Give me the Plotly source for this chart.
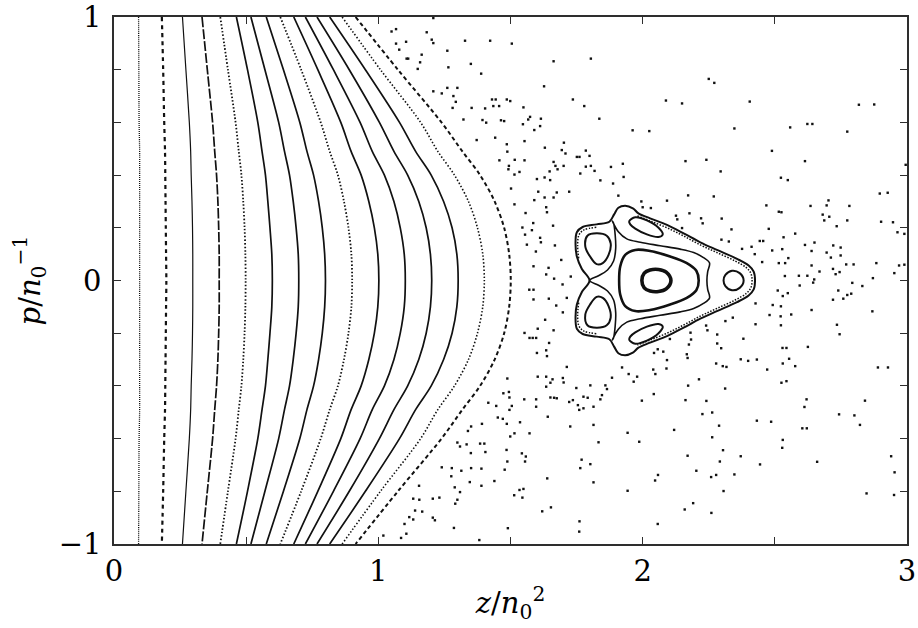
import plotly.graph_objects as go

# ---------------------------------------------------------------------------
# Regular (integrable-looking) invariant curves on the low-z side.
# Each curve is sampled at the momenta in P_LEVELS (upper half, p >= 0);
# the section is symmetric under p -> -p.
# ---------------------------------------------------------------------------
P_LEVELS = [1.0, 0.8, 0.6, 0.49, 0.4, 0.3, 0.2, 0.1, 0.0]

Z_CURVES = [
    [0.093, 0.094, 0.095, 0.097, 0.097, 0.097, 0.097, 0.097, 0.097],
    [0.181, 0.186, 0.190, 0.193, 0.194, 0.195, 0.196, 0.197, 0.198],
    [0.259, 0.272, 0.285, 0.290, 0.292, 0.295, 0.297, 0.298, 0.298],
    [0.333, 0.353, 0.373, 0.381, 0.388, 0.393, 0.396, 0.398, 0.398],
    [0.402, 0.431, 0.460, 0.472, 0.482, 0.489, 0.494, 0.497, 0.498],
    [0.463, 0.505, 0.544, 0.560, 0.573, 0.582, 0.590, 0.597, 0.599],
    [0.518, 0.571, 0.623, 0.645, 0.664, 0.678, 0.689, 0.697, 0.699],
    [0.576, 0.641, 0.703, 0.730, 0.755, 0.774, 0.788, 0.797, 0.800],
    [0.629, 0.708, 0.782, 0.816, 0.847, 0.870, 0.887, 0.898, 0.901],
    [0.680, 0.771, 0.858, 0.897, 0.935, 0.964, 0.985, 0.998, 1.002],
    [0.724, 0.830, 0.931, 0.977, 1.023, 1.059, 1.083, 1.098, 1.102],
    [0.768, 0.890, 1.004, 1.059, 1.111, 1.153, 1.181, 1.197, 1.202],
    [0.816, 0.951, 1.080, 1.141, 1.200, 1.247, 1.279, 1.297, 1.302],
    [0.863, 1.008, 1.160, 1.225, 1.288, 1.341, 1.375, 1.395, 1.401],
    [0.914, 1.074, 1.239, 1.318, 1.385, 1.440, 1.476, 1.495, 1.501],
]

# ---------------------------------------------------------------------------
# Resonance island chain around z ~ 2 (upper halves / upper loops).
# ---------------------------------------------------------------------------
CENTRE_RING_Z = [1.997, 2.006, 2.028, 2.060, 2.089, 2.107]
CENTRE_RING_P = [0.0, 0.028, 0.040, 0.042, 0.032, 0.0]

CENTRE_TORUS_Z = [1.911, 1.915, 1.934, 1.972, 2.028, 2.104, 2.167, 2.203, 2.212]
CENTRE_TORUS_P = [0.0, 0.053, 0.097, 0.116, 0.112, 0.091, 0.066, 0.037, 0.0]

RIGHT_ISLAND_Z = [2.306, 2.313, 2.338, 2.367, 2.382]
RIGHT_ISLAND_P = [0.0, 0.021, 0.037, 0.028, 0.0]

LEFT_ISLAND_Z = [1.791, 1.826, 1.864, 1.879, 1.871, 1.849, 1.826, 1.801, 1.783, 1.791]
LEFT_ISLAND_P = [0.170, 0.179, 0.170, 0.141, 0.097, 0.066, 0.062, 0.091, 0.129, 0.170]

UPPER_ISLAND_Z = [1.949, 1.972, 2.016, 2.060, 2.076, 2.060, 2.016, 1.972, 1.953, 1.949]
UPPER_ISLAND_P = [0.225, 0.240, 0.228, 0.200, 0.175, 0.165, 0.175, 0.197, 0.213, 0.225]

OUTER_SEP_Z = [1.799, 1.770, 1.751, 1.746, 1.751, 1.773, 1.826, 1.874, 1.892, 1.908,
               1.934, 1.963, 1.984, 2.028, 2.092, 2.155, 2.218, 2.281, 2.357, 2.401,
               2.420, 2.425]
OUTER_SEP_P = [0.0, 0.044, 0.091, 0.141, 0.183, 0.203, 0.213, 0.223, 0.251, 0.276,
               0.284, 0.274, 0.255, 0.236, 0.211, 0.179, 0.145, 0.116, 0.082, 0.057,
               0.034, 0.0]

INNER_SEP_Z = [1.799, 1.833, 1.867, 1.890, 1.898, 1.896, 1.890, 1.885, 1.908, 1.940,
               1.991, 2.066, 2.142, 2.193, 2.230, 2.253, 2.246, 2.243]
INNER_SEP_P = [0.0, 0.018, 0.040, 0.074, 0.122, 0.173, 0.217, 0.226, 0.185, 0.158,
               0.145, 0.132, 0.119, 0.106, 0.087, 0.066, 0.034, 0.0]

LAYER_RIGHT_Z = [1.980, 2.028, 2.092, 2.155, 2.218, 2.281, 2.350, 2.392, 2.409, 2.414]
LAYER_RIGHT_P = [0.245, 0.226, 0.200, 0.169, 0.135, 0.106, 0.074, 0.049, 0.028, 0.0]

LAYER_LEFT_Z = [1.758, 1.754, 1.759, 1.778, 1.826]
LAYER_LEFT_P = [0.084, 0.135, 0.173, 0.192, 0.202]

# ---------------------------------------------------------------------------
# Chaotic sea: isolated section points (z, p).
# ---------------------------------------------------------------------------
SEA_UPPER_LEFT = [
    (1.208, 0.996), (1.050, 0.945), (1.067, 0.954), (1.183, 0.942), (1.202, 0.914),
    (1.208, 0.901), (1.067, 0.899), (1.105, 0.906), (1.079, 0.876), (1.328, 0.910),
    (1.423, 0.910), (1.505, 0.899), (1.261, 0.872), (1.164, 0.857), (1.107, 0.842),
    (1.113, 0.842), (1.158, 0.828), (1.149, 0.803), (1.265, 0.809), (1.350, 0.822),
    (1.389, 0.785), (1.663, 0.832), (1.804, 0.842), (1.627, 0.737), (1.208, 0.718),
    (1.240, 0.710), (1.261, 0.731), (1.299, 0.731), (1.284, 0.700), (1.293, 0.678),
    (1.281, 0.655), (1.353, 0.655), (1.430, 0.687), (1.444, 0.687), (1.486, 0.687),
    (1.499, 0.681), (1.435, 0.662), (1.457, 0.662), (1.404, 0.653), (1.549, 0.657),
    (1.736, 0.687), (1.779, 0.662), (1.322, 0.611), (1.394, 0.609), (1.408, 0.599),
    (1.464, 0.608), (1.476, 0.605), (1.547, 0.593), (1.567, 0.611), (1.574, 0.621),
    (1.615, 0.614), (1.612, 0.586), (1.590, 0.571), (1.836, 0.614), (1.962, 0.570),
    (1.372, 0.533), (1.442, 0.542), (1.486, 0.517), (1.488, 0.489), (1.553, 0.529),
    (1.630, 0.504), (1.702, 0.523), (1.694, 0.495), (1.708, 0.482), (1.663, 0.450),
    (1.670, 0.435), (1.701, 0.435), (1.751, 0.469), (1.761, 0.469), (1.785, 0.493),
    (1.799, 0.473), (1.785, 0.432), (1.804, 0.435), (1.818, 0.416), (1.880, 0.431),
    (1.925, 0.443), (1.458, 0.456), (1.494, 0.435), (1.492, 0.422), (1.516, 0.458),
    (1.534, 0.412), (1.553, 0.456), (1.515, 0.402), (1.600, 0.385), (1.629, 0.391),
    (1.650, 0.381), (1.648, 0.414), (1.678, 0.422), (1.764, 0.406), (1.840, 0.380),
    (1.888, 0.368), (1.928, 0.393), (1.502, 0.349), (1.605, 0.337), (1.629, 0.315),
    (1.663, 0.315), (1.675, 0.334), (1.722, 0.337), (1.908, 0.322), (1.515, 0.289),
    (1.590, 0.305), (1.635, 0.278), (1.638, 0.259), (1.557, 0.256), (1.586, 0.218),
    (1.661, 0.208), (1.545, 0.201), (1.555, 0.174), (1.581, 0.191), (1.612, 0.162),
    (1.615, 0.145), (1.562, 0.136), (1.596, 0.110), (1.668, 0.133), (1.692, 0.078),
    (1.587, 0.054), (1.644, 0.048), (1.635, 0.023), (1.665, 0.007), (1.728, 0.015),
    (1.995, 0.300), (2.000, 0.278),
]

SEA_UPPER_RIGHT = [
    (2.250, 0.765), (2.271, 0.750), (2.088, 0.683), (2.149, 0.672), (2.405, 0.679),
    (2.818, 0.667), (2.876, 0.668), (2.025, 0.567), (2.347, 0.577), (2.558, 0.581),
    (2.623, 0.594), (2.642, 0.594), (2.774, 0.565), (2.489, 0.492), (2.162, 0.453),
    (2.241, 0.458), (2.295, 0.414), (2.614, 0.453), (2.523, 0.390), (2.549, 0.381),
    (2.995, 0.439), (2.897, 0.330), (2.927, 0.333), (2.092, 0.303), (2.172, 0.323),
    (2.269, 0.319), (2.031, 0.275), (2.635, 0.283), (2.703, 0.304), (2.696, 0.285),
    (2.782, 0.283), (2.468, 0.285), (2.126, 0.246), (2.131, 0.232), (2.177, 0.255),
    (2.221, 0.236), (2.227, 0.217), (2.299, 0.235), (2.149, 0.199), (2.515, 0.261),
    (2.525, 0.259), (2.681, 0.250), (2.687, 0.228), (2.706, 0.242), (2.774, 0.228),
    (2.734, 0.206), (2.902, 0.223), (2.947, 0.221), (2.964, 0.183), (2.990, 0.177),
    (2.336, 0.194), (2.477, 0.196), (2.577, 0.178), (2.298, 0.155), (2.326, 0.148),
    (2.443, 0.150), (2.456, 0.150), (2.533, 0.164), (2.376, 0.120), (2.412, 0.128),
    (2.424, 0.100), (2.490, 0.114), (2.528, 0.119), (2.452, 0.070), (2.515, 0.066),
    (2.539, 0.066), (2.551, 0.085), (2.614, 0.135), (2.650, 0.144), (2.639, 0.112),
    (2.696, 0.106), (2.721, 0.133), (2.749, 0.125), (2.749, 0.095), (2.712, 0.087),
    (2.639, 0.057), (2.669, 0.034), (2.720, 0.044), (2.730, 0.024), (2.745, 0.032),
    (2.770, 0.061), (2.798, 0.061), (2.884, 0.066), (2.970, 0.057), (2.990, 0.060),
    (2.952, 0.028), (2.538, 0.017), (2.591, 0.018), (2.623, 0.018), (2.649, 0.004),
    (2.871, 0.009),
]

SEA_LOWER_LEFT = [
    (1.697, -0.015), (1.571, -0.035), (1.587, -0.035), (1.587, -0.072), (1.645, -0.069),
    (1.713, -0.066), (1.673, -0.095), (1.698, -0.121), (1.631, -0.149), (1.603, -0.183),
    (1.663, -0.189), (1.553, -0.199), (1.572, -0.218), (1.584, -0.218), (1.597, -0.218),
    (1.646, -0.237), (1.600, -0.275), (1.635, -0.265), (1.638, -0.287), (1.713, -0.328),
    (1.603, -0.365), (1.635, -0.365), (1.488, -0.372), (1.659, -0.375), (1.651, -0.388),
    (1.698, -0.370), (1.701, -0.387), (1.635, -0.403), (1.749, -0.408), (1.802, -0.398),
    (1.859, -0.398), (1.865, -0.412), (1.884, -0.369), (1.922, -0.330), (1.947, -0.355),
    (1.979, -0.365), (1.966, -0.384), (1.846, -0.435), (1.840, -0.451), (1.776, -0.441),
    (1.792, -0.445), (1.736, -0.454), (1.722, -0.461), (1.814, -0.479), (1.776, -0.485),
    (1.760, -0.491), (1.755, -0.473), (1.473, -0.428), (1.494, -0.423), (1.496, -0.444),
    (1.416, -0.464), (1.446, -0.476), (1.505, -0.476), (1.496, -0.491), (1.552, -0.451),
    (1.597, -0.451), (1.597, -0.479), (1.651, -0.444), (1.665, -0.445), (1.675, -0.447),
    (1.641, -0.517), (1.452, -0.520), (1.471, -0.525), (1.486, -0.544), (1.536, -0.538),
    (1.392, -0.544), (1.351, -0.554), (1.339, -0.571), (1.299, -0.615), (1.309, -0.630),
    (1.334, -0.622), (1.385, -0.619), (1.401, -0.619), (1.350, -0.655), (1.405, -0.651),
    (1.485, -0.643), (1.543, -0.656), (1.558, -0.668), (1.555, -0.687), (1.572, -0.580),
    (1.515, -0.580), (1.499, -0.592), (1.488, -0.687), (1.478, -0.718), (1.390, -0.714),
    (1.351, -0.712), (1.314, -0.722), (1.278, -0.712), (1.240, -0.709), (1.276, -0.743),
    (1.346, -0.765), (1.390, -0.779), (1.439, -0.761), (1.289, -0.785), (1.309, -0.803),
    (1.154, -0.779), (1.132, -0.828), (1.155, -0.832), (1.206, -0.828), (1.231, -0.824),
    (1.299, -0.832), (1.291, -0.847), (1.139, -0.873), (1.166, -0.877), (1.117, -0.898),
    (1.132, -0.907), (1.206, -0.900), (1.214, -0.910), (1.099, -0.924), (1.106, -0.961),
    (1.086, -0.977), (1.019, -0.968), (1.382, -0.985), (1.286, -0.939), (1.490, -0.940),
    (1.514, -0.815), (1.534, -0.795), (1.549, -0.791), (1.545, -0.824), (1.620, -0.876),
    (1.653, -0.861), (1.639, -0.751), (1.726, -0.554), (1.769, -0.680), (1.764, -0.712),
    (1.802, -0.697), (1.814, -0.766), (1.833, -0.614), (1.943, -0.798), (1.943, -0.578),
    (1.987, -0.612), (1.997, -0.456), (1.761, -0.914), (1.760, -0.953), (1.814, -0.548),
]

SEA_LOWER_RIGHT = [
    (2.594, -0.019), (2.645, -0.008), (2.793, -0.009), (2.831, -0.021), (2.511, -0.038),
    (2.530, -0.059), (2.549, -0.048), (2.740, -0.038), (2.774, -0.055), (2.789, -0.050),
    (2.759, -0.069), (2.720, -0.073), (2.427, -0.087), (2.492, -0.093), (2.523, -0.098),
    (2.562, -0.129), (2.639, -0.112), (2.480, -0.131), (2.522, -0.136), (2.869, -0.117),
    (2.313, -0.154), (2.341, -0.141), (2.240, -0.171), (2.245, -0.189), (2.427, -0.166),
    (2.523, -0.170), (2.735, -0.168), (2.745, -0.204), (2.181, -0.198), (2.282, -0.205),
    (2.103, -0.222), (2.183, -0.224), (2.175, -0.243), (2.282, -0.239), (2.297, -0.257),
    (2.381, -0.221), (2.529, -0.256), (2.544, -0.256), (2.625, -0.252), (2.043, -0.275),
    (2.057, -0.261), (2.078, -0.270), (2.167, -0.280), (2.170, -0.294), (2.092, -0.302),
    (2.371, -0.299), (2.399, -0.305), (2.432, -0.300), (2.554, -0.297), (2.530, -0.315),
    (2.577, -0.325), (2.278, -0.315), (2.303, -0.325), (2.317, -0.328), (2.471, -0.338),
    (2.040, -0.338), (2.048, -0.355), (2.090, -0.334), (2.213, -0.375), (2.172, -0.399),
    (2.312, -0.410), (2.525, -0.388), (2.544, -0.382), (2.890, -0.330), (2.928, -0.330),
    (2.042, -0.431), (2.162, -0.454), (2.241, -0.457), (2.263, -0.501), (2.226, -0.507),
    (2.289, -0.551), (2.119, -0.567), (2.432, -0.532), (2.486, -0.536), (2.620, -0.451),
    (2.612, -0.480), (2.604, -0.561), (2.621, -0.561), (2.743, -0.508), (2.801, -0.512),
    (2.822, -0.548), (2.841, -0.456), (2.263, -0.595), (2.304, -0.644), (2.170, -0.665),
    (2.292, -0.687), (2.371, -0.667), (2.444, -0.698), (2.530, -0.605), (2.528, -0.635),
    (2.660, -0.688), (2.940, -0.667), (2.953, -0.728), (2.058, -0.738), (2.047, -0.759),
    (2.203, -0.722), (2.259, -0.746), (2.278, -0.738), (2.347, -0.736), (2.306, -0.799),
    (2.847, -0.808), (2.951, -0.814), (2.191, -0.845), (2.159, -0.869), (2.260, -0.882),
    (2.057, -0.924),
]

X_TICKS = [0, 0.5, 1, 1.5, 2, 2.5, 3]
X_TICK_TEXT = ["0", "", "1", "", "2", "", "3"]
Y_TICKS = [-1, -0.8, -0.6, -0.4, -0.2, 0, 0.2, 0.4, 0.6, 0.8, 1]
Y_TICK_TEXT = ["\u22121", "", "", "", "", "0", "", "", "", "", "1"]

INK = "#111111"
FRAME = "#2e2e2e"
SERIF = "DejaVu Serif"
TEXT_SIZE = 29

# line appearance of each regular curve, from the innermost outwards
CURVE_STYLES = [
    dict(width=1.3, dash="1px,1px"),
    dict(width=2.2, dash="4px,4px"),
    dict(width=1.2, dash="solid"),
    dict(width=1.7, dash="10px,2px"),
    dict(width=1.8, dash="1.5px,2px"),
    dict(width=1.7, dash="solid"),
    dict(width=1.7, dash="solid"),
    dict(width=1.7, dash="solid"),
    dict(width=1.8, dash="1.5px,2px"),
    dict(width=1.7, dash="solid"),
    dict(width=1.7, dash="solid"),
    dict(width=1.7, dash="solid"),
    dict(width=1.7, dash="solid"),
    dict(width=1.6, dash="1.5px,2px"),
    dict(width=2.0, dash="4px,3px"),
]


def reflect_closed(zu, pu):
    """Close an upper-half curve (both ends on p = 0) with its mirror image."""
    z = list(zu) + list(zu[::-1][1:])
    p = list(pu) + [-v for v in pu[::-1][1:]]
    return z, p


def line_trace(z, p, width, dash="solid", smoothing=1.0):
    return go.Scatter(
        x=z, y=p, mode="lines",
        line=dict(color=INK, width=width, dash=dash, shape="spline", smoothing=smoothing),
        hoverinfo="skip",
    )


fig = go.Figure()

# regular curves, full p range from +1 to -1
for zs, style in zip(Z_CURVES, CURVE_STYLES):
    p_full = P_LEVELS + [-v for v in P_LEVELS[::-1][1:]]
    z_full = zs + zs[::-1][1:]
    fig.add_trace(line_trace(z_full, p_full, style["width"], style["dash"], 0.9))

# island chain
for zu, pu, w in [
    (OUTER_SEP_Z, OUTER_SEP_P, 2.0),
    (INNER_SEP_Z, INNER_SEP_P, 1.6),
    (CENTRE_TORUS_Z, CENTRE_TORUS_P, 2.6),
    (CENTRE_RING_Z, CENTRE_RING_P, 3.6),
    (RIGHT_ISLAND_Z, RIGHT_ISLAND_P, 2.0),
]:
    z, p = reflect_closed(zu, pu)
    fig.add_trace(line_trace(z, p, w))

for zl, pl in [(LEFT_ISLAND_Z, LEFT_ISLAND_P), (UPPER_ISLAND_Z, UPPER_ISLAND_P)]:
    fig.add_trace(line_trace(zl, pl, 2.0))
    fig.add_trace(line_trace(zl, [-v for v in pl], 2.0))

# thin stochastic layer hugging the outer separatrix
z, p = reflect_closed(LAYER_RIGHT_Z, LAYER_RIGHT_P)
fig.add_trace(line_trace(z, p, 1.5, "1.5px,1.5px"))
fig.add_trace(line_trace(LAYER_LEFT_Z, LAYER_LEFT_P, 1.5, "1.5px,1.5px"))
fig.add_trace(line_trace(LAYER_LEFT_Z, [-v for v in LAYER_LEFT_P], 1.5, "1.5px,1.5px"))

# chaotic sea
sea = SEA_UPPER_LEFT + SEA_UPPER_RIGHT + SEA_LOWER_LEFT + SEA_LOWER_RIGHT
fig.add_trace(go.Scatter(
    x=[s[0] for s in sea], y=[s[1] for s in sea], mode="markers",
    marker=dict(symbol="square", size=2.4, color=INK, line=dict(width=0)),
    hoverinfo="skip",
))

text_font = dict(family=SERIF, size=TEXT_SIZE, color="black")

axis_common = dict(
    showgrid=False, zeroline=False, showline=True, linecolor=FRAME, linewidth=1.5,
    mirror="ticks", ticks="inside", ticklen=7, tickwidth=1.2, tickcolor=FRAME,
    tickfont=text_font, ticklabeloverflow="allow", automargin=False,
)

fig.update_layout(
    width=918, height=628,
    margin=dict(l=114, r=11, t=17, b=84),
    paper_bgcolor="white", plot_bgcolor="white",
    showlegend=False,
    font=text_font,
    xaxis=dict(
        range=[0, 3], tickvals=X_TICKS, ticktext=X_TICK_TEXT,
        title=dict(text="<i>z</i>/<i>n</i><sub>0</sub><sup>2</sup>",
                   font=text_font, standoff=6),
        **axis_common,
    ),
    yaxis=dict(
        range=[-1, 1], tickvals=Y_TICKS, ticktext=Y_TICK_TEXT,
        ticklabelstandoff=5,
        title=dict(text="<i>p</i>/<i>n</i><sub>0</sub><sup>\u22121</sup>",
                   font=text_font, standoff=10),
        **axis_common,
    ),
)

fig.write_html("out.html")
